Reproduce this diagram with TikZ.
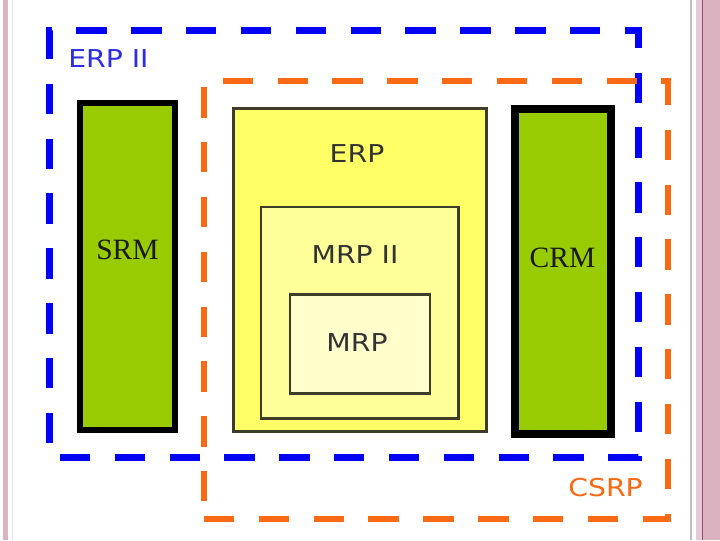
\documentclass[tikz,border=0pt]{standalone}
\usepackage{fontspec}
\setmainfont{Liberation Serif}
\newfontfamily\lblfont[FakeStretch=1.15]{DejaVu Sans}
\usepackage{tikz}
\usetikzlibrary{positioning}
\definecolor{FrameBlue}{RGB}{0,0,245}
\definecolor{FrameOrange}{RGB}{250,105,20}
\definecolor{TextBlue}{RGB}{45,45,225}
\definecolor{BoxGreen}{RGB}{153,204,0}
\definecolor{ErpYellow}{RGB}{255,255,102}
\definecolor{MrpiiYellow}{RGB}{255,255,153}
\definecolor{MrpYellow}{RGB}{255,255,204}
\definecolor{BoxEdge}{RGB}{60,60,40}
\definecolor{SlidePink}{RGB}{218,178,192}
\definecolor{SlideLine}{RGB}{170,70,110}
\tikzset{
  dashframe/.style={rectangle, draw, inner sep=0pt,
    dash pattern=on 21.6pt off 17.4pt},
  sidebox/.style={rectangle, draw=black, fill=BoxGreen, inner sep=0pt,
    minimum width=2.4cm},
  erpbox/.style={rectangle, draw=BoxEdge, line width=2pt, inner sep=0pt},
  lbl/.style={font=\lblfont\fontsize{17.5}{20}\selectfont, text=black!80, inner sep=0pt},
  sidelbl/.style={font=\fontsize{21}{24}\selectfont, text=black!90, inner sep=0pt}
}

\begin{document}
\begin{tikzpicture}[x=0.025cm, y=-0.025cm]
  \useasboundingbox (0,0) rectangle (720,540);
  \fill[white] (0,0) rectangle (720,540);
  % slide border
  \fill[SlidePink] (2.7,0) rectangle (8.3,540);
  \draw[black!10, line width=0.4pt] (12,0) -- (12,540);
  \draw[black!25, line width=0.8pt] (691,0) -- (691,540);
  \fill[SlidePink!70] (696,0) rectangle (701.5,540);
  \fill[SlideLine] (701.5,0) rectangle (703.3,540);
  \fill[SlidePink] (703.3,0) rectangle (720,540);

  % dashed scopes
  \node[dashframe, draw=FrameBlue, line width=5pt, dash phase=31.9pt,
    minimum width=14.7cm, minimum height=10.65cm] (erpii) at (344,244) {};
  \node[dashframe, draw=FrameOrange, line width=4.3pt,
    minimum width=11.6cm, minimum height=10.925cm] (csrp) at (436,300) {};
  \node[lbl, text=TextBlue, anchor=west] (erpiilbl) at (68,59) {ERP II};
  \node[lbl, text=FrameOrange, anchor=east] (csrplbl) at (643,488) {CSRP};

  % side modules
  \node[sidebox, line width=4.6pt, minimum width=2.375cm, minimum height=8.175cm] (srm) at (127.5,266.5) {};
  \node[sidebox, line width=6pt, minimum width=2.4cm, minimum height=8.125cm] (crm) at (563,271.5) {};
  \node[sidelbl] (srmlbl) at (127.5,250) {SRM};
  \node[sidelbl] (crmlbl) at (562.5,257.5) {CRM};

  % nested core
  \node[erpbox, fill=ErpYellow, minimum width=6.325cm, minimum height=8.075cm] (erp) at (360,270) {};
  \node[erpbox, fill=MrpiiYellow, minimum width=4.94cm, minimum height=5.29cm] (mrpii) at (359.75,312.75) {};
  \node[erpbox, fill=MrpYellow, minimum width=3.5cm, minimum height=2.46cm] (mrp) at (360,344) {};
  \node[lbl] (erplbl) at (357,154) {ERP};
  \node[lbl] (mrpiilbl) at (355,255) {MRP II};
  \node[lbl] (mrplbl) at (357,343) {MRP};
\end{tikzpicture}
\end{document}
